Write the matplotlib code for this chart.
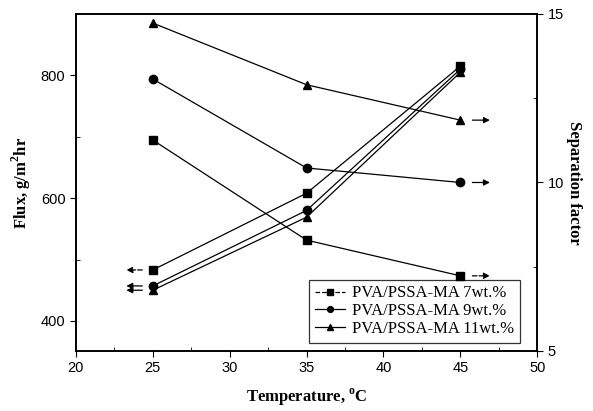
import matplotlib.pyplot as plt
import numpy as np

temp = np.array([25, 35, 45])
labels = ["PVA/PSSA-MA 7wt.%", "PVA/PSSA-MA 9wt.%", "PVA/PSSA-MA 11wt.%"]
markers = ["s", "o", "^"]

flux_7 = [483, 608, 815]
flux_9 = [457, 580, 810]
flux_11 = [450, 569, 805]

sep_7 = [11.26, 8.29, 7.23]
sep_9 = [13.07, 10.43, 10.0]
sep_11 = [14.73, 12.9, 11.85]

flux = [flux_7, flux_9, flux_11]
sep = [sep_7, sep_9, sep_11]

plt.rcParams["font.family"] = ["Liberation Sans", "DejaVu Sans"]
serif = ["Liberation Serif", "DejaVu Serif"]

fig = plt.figure(figsize=(5.93, 4.11), dpi=100)
ax = fig.add_axes([0.128, 0.146, 0.778, 0.820])
ax2 = ax.twinx()

for f, s, m, lab, i in zip(flux, sep, markers, labels, range(3)):
    ax.plot(temp, f, color="black", lw=0.9, marker=m, ms=6, label=lab)
    ax2.plot(temp, s, color="black", lw=0.9, marker=m, ms=6)
    ls = "--" if i == 0 else "-"
    # arrows pointing to the axis each curve belongs to
    ax.annotate("", xy=(23.1, f[0]), xytext=(24.5, f[0]),
                arrowprops=dict(arrowstyle="-|>", color="black", lw=0.9,
                                ls=ls, mutation_scale=9))
    ax2.annotate("", xy=(47.1, s[2]), xytext=(45.6, s[2]),
                 arrowprops=dict(arrowstyle="-|>", color="black", lw=0.9,
                                 ls=ls, mutation_scale=9))

ax.set_xlim(20, 50)
ax.set_ylim(351, 900)
ax2.set_ylim(5, 15)

ax.set_xticks([20, 25, 30, 35, 40, 45, 50])
ax.set_xticks(np.arange(22.5, 50, 5), minor=True)
ax.set_yticks([400, 600, 800])
ax.set_yticks([500, 700], minor=True)
ax2.set_yticks([5, 10, 15])
ax2.set_yticks([7.5, 12.5], minor=True)

ax.tick_params(which="major", direction="out", length=4, labelsize=10.5, top=False)
ax.tick_params(which="minor", direction="in", length=3, top=False)
ax2.tick_params(which="major", direction="out", length=4, labelsize=10.5)
ax2.tick_params(which="minor", direction="in", length=3)

for a in (ax, ax2):
    for sp in a.spines.values():
        sp.set_linewidth(1.2)

ax.set_xlabel("Temperature, $^{\\mathregular{o}}$C", family=serif,
              fontweight="bold", fontsize=12, labelpad=8)
ax.set_ylabel("Flux, g/m$^{\\mathregular{2}}$hr", family=serif,
              fontweight="bold", fontsize=12, labelpad=6)
ax2.set_ylabel("Separation factor", family=serif, fontweight="bold",
               fontsize=12, rotation=-90, labelpad=13)

h, l = ax.get_legend_handles_labels()
h[0].set_linestyle("--")
leg = ax.legend(h, l, loc="lower right", bbox_to_anchor=(0.98, 0.0),
                prop={"family": serif, "size": 12}, frameon=True,
                fancybox=False, edgecolor="black", handlelength=1.8,
                borderpad=0.35, labelspacing=0.1, handletextpad=0.4,
                markerscale=0.7)
leg.get_frame().set_linewidth(0.9)
h[0].set_linestyle("-")

fig.savefig("out.png", dpi=100)
